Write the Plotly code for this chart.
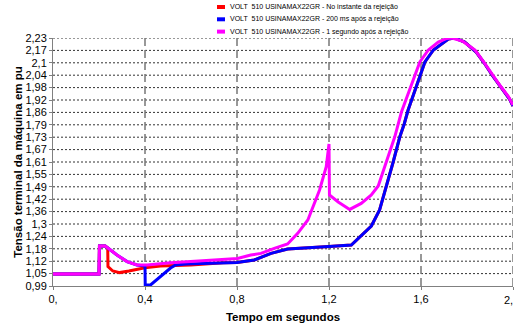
import plotly.graph_objects as go

# ---- data (time in s, voltage in pu) ----
t_red = [0, 0.2, 0.202, 0.227, 0.238, 0.239, 0.26, 0.29, 0.33, 0.4, 0.467, 0.6, 0.74, 0.8,
         0.875, 0.948, 1.02, 1.08, 1.2, 1.297, 1.34, 1.384, 1.42, 1.45, 1.479, 1.508, 1.527,
         1.544, 1.559, 1.576, 1.595, 1.617, 1.654, 1.719, 1.747, 1.79, 1.84, 1.875, 1.912,
         1.95, 1.985, 2.0]
v_red = [1.05, 1.05, 1.19, 1.19, 1.18, 1.087, 1.065, 1.057, 1.065, 1.081, 1.09, 1.095, 1.106, 1.108,
         1.12, 1.153, 1.175, 1.178, 1.187, 1.195, 1.24, 1.29, 1.37, 1.49, 1.61, 1.736, 1.80,
         1.87, 1.92, 1.98, 2.04, 2.11, 2.17, 2.225, 2.23, 2.21, 2.16, 2.105, 2.04,
         1.98, 1.925, 1.89]

t_blue = [0, 0.2, 0.202, 0.227, 0.25, 0.278, 0.322, 0.365, 0.4, 0.401, 0.424, 0.467, 0.511,
          0.533, 0.58, 0.65, 0.8, 0.875, 0.948, 1.02, 1.08, 1.2, 1.297, 1.34, 1.384, 1.42,
          1.45, 1.479, 1.508, 1.527, 1.544, 1.559, 1.576, 1.595, 1.617, 1.654, 1.719, 1.747,
          1.79, 1.84, 1.875, 1.912, 1.95, 1.985, 2.0]
v_blue = [1.05, 1.05, 1.19, 1.19, 1.17, 1.145, 1.112, 1.095, 1.09, 0.995, 0.995, 1.035, 1.08,
          1.095, 1.10, 1.103, 1.108, 1.12, 1.153, 1.175, 1.178, 1.187, 1.195, 1.24, 1.29, 1.37,
          1.49, 1.61, 1.736, 1.80, 1.87, 1.92, 1.98, 2.04, 2.11, 2.17, 2.225, 2.23,
          2.21, 2.16, 2.105, 2.04, 1.98, 1.925, 1.89]

t_pink = [0, 0.2, 0.202, 0.227, 0.25, 0.278, 0.322, 0.365, 0.409, 0.511, 0.65, 0.802, 0.86,
          0.904, 0.962, 1.02, 1.064, 1.108, 1.159, 1.188, 1.2, 1.202, 1.24, 1.29, 1.34, 1.384,
          1.414, 1.45, 1.486, 1.515, 1.534, 1.552, 1.571, 1.595, 1.632, 1.675, 1.712, 1.734,
          1.78, 1.835, 1.87, 1.908, 1.945, 1.98, 2.0]
v_pink = [1.05, 1.05, 1.19, 1.19, 1.17, 1.145, 1.112, 1.095, 1.095, 1.106, 1.116, 1.128, 1.145,
          1.153, 1.178, 1.20, 1.253, 1.32, 1.47, 1.587, 1.70, 1.445, 1.41, 1.373, 1.403, 1.445,
          1.49, 1.61, 1.736, 1.86, 1.92, 1.98, 2.04, 2.11, 2.17, 2.21, 2.228, 2.23,
          2.215, 2.17, 2.115, 2.05, 1.99, 1.937, 1.895]

series_names = [
    "VOLT  510 USINAMAX22GR - No instante da rejeição",
    "VOLT  510 USINAMAX22GR - 200 ms após a rejeição",
    "VOLT  510 USINAMAX22GR - 1 segundo após a rejeição",
]
series_colors = ["#ff0000", "#0000ff", "#ff00ff"]

y_tickvals = [0.99 + 0.062 * k for k in range(21)]
y_ticktext = ["0,99", "1,05", "1,12", "1,18", "1,24", "1,3", "1,36", "1,42", "1,49", "1,55",
              "1,61", "1,67", "1,73", "1,79", "1,86", "1,92", "1,98", "2,04", "2,1", "2,17", "2,23"]
x_tickvals = [0, 0.4, 0.8, 1.2, 1.6, 2.0]
x_ticktext = ["0,", "0,4", "0,8", "1,2", "1,6", "2,"]

FONT = "Arial, Liberation Sans, sans-serif"

fig = go.Figure()
for (tx, vy), name, col in zip([(t_red, v_red), (t_blue, v_blue), (t_pink, v_pink)],
                               series_names, series_colors):
    fig.add_trace(go.Scatter(x=tx, y=vy, mode="lines", name=name,
                             line=dict(color=col, width=3), showlegend=False))

# horizontal dotted grid lines
for yv in y_tickvals[1:]:
    fig.add_shape(type="line", xref="x", yref="y", x0=0, x1=2.0, y0=yv, y1=yv,
                  line=dict(color="#333333", width=1, dash="2px,2px"), layer="below")
# vertical dashed grid lines
for xv in x_tickvals[1:]:
    fig.add_shape(type="line", xref="x", yref="y", x0=xv, x1=xv, y0=0.99, y1=2.23,
                  line=dict(color="#777777", width=1.5, dash="8px,4px"), layer="below")

# legend (manual, top centre)
L, R, T, B = 53, 513, 38, 286
def px(x):
    return (x - L) / (R - L)
def py(y):
    return (B - y) / (B - T)

for i, (name, col) in enumerate(zip(series_names, series_colors)):
    yc = 7 + 12.3 * i
    fig.add_shape(type="rect", xref="paper", yref="paper",
                  x0=px(217), x1=px(225), y0=py(yc + 2), y1=py(yc - 2),
                  line=dict(width=0), fillcolor=col)
    fig.add_annotation(xref="paper", yref="paper", x=px(228), y=py(yc),
                       xanchor="left", yanchor="middle", showarrow=False,
                       text=name, font=dict(family=FONT, size=7, color="#000000"))

# last x tick label, kept inside the canvas (right-aligned as in the reference)
fig.add_annotation(xref="x", yref="paper", x=x_tickvals[-1], y=py(300),
                   xanchor="right", yanchor="middle", xshift=2, showarrow=False,
                   text=x_ticktext[-1], font=dict(family=FONT, size=11, color="#000000"))
x_ticktext_axis = x_ticktext[:-1] + [""]

fig.update_layout(
    width=518, height=327,
    margin=dict(l=L, r=518 - R, t=T, b=327 - B, autoexpand=False),
    paper_bgcolor="white", plot_bgcolor="white",
    font=dict(family=FONT, size=11, color="#000000"),
)
fig.update_xaxes(range=[0, 2.0], tickvals=x_tickvals, ticktext=x_ticktext_axis,
                 showgrid=False, zeroline=False, showline=True, linecolor="#808080",
                 linewidth=1, ticks="outside", ticklen=3, tickcolor="#808080",
                 tickfont=dict(size=11), automargin=False,
                 title=dict(text="<b>Tempo em segundos</b>", font=dict(size=11.5), standoff=8))
fig.update_yaxes(range=[0.99, 2.23], tickvals=y_tickvals, ticktext=y_ticktext,
                 showgrid=False, zeroline=False, showline=True, linecolor="#808080",
                 linewidth=1, ticks="outside", ticklen=3, tickcolor="#808080",
                 tickfont=dict(size=11), automargin=False,
                 title=dict(text="<b>Tensão terminal da máquina em pu</b>", font=dict(size=11.5),
                            standoff=0))

fig.write_html("out.html", config={"displayModeBar": False},
               post_script="document.body.style.margin='0px';")
